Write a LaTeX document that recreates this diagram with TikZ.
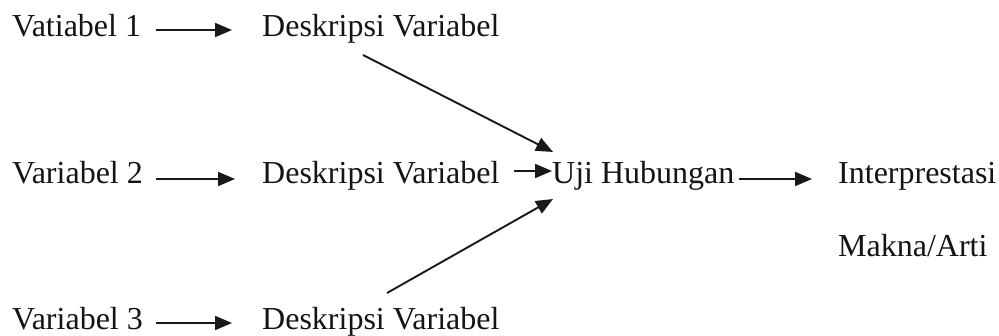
\documentclass[tikz,border=0pt]{standalone}
\usepackage{fontspec}
\setmainfont{Liberation Serif}
\usetikzlibrary{arrows.meta}
\begin{document}
\begin{tikzpicture}[x=1pt,y=-1pt,
  lbl/.style={anchor=base west,inner sep=0pt,font=\fontsize{32}{36}\selectfont,text=black!92},
  arr/.style={-{Triangle[length=17pt,width=14pt]},line width=1.9pt,draw=black!90}]
\useasboundingbox[fill=white] (0,0) rectangle (999,336);
\node[lbl] (v1) at (12,37) {Vatiabel 1};
\node[lbl] (d1) at (262,37) {Deskripsi Variabel};
\node[lbl] (v2) at (12,184) {Variabel 2};
\node[lbl] (d2) at (262,184) {Deskripsi Variabel};
\node[lbl] (u) at (552,184) {Uji Hubungan};
\node[lbl] (i) at (838,184) {Interprestasi};
\node[lbl] (m) at (838,257) {Makna/Arti};
\node[lbl] (v3) at (12,330) {Variabel 3};
\node[lbl] (d3) at (262,330) {Deskripsi Variabel};
\draw[arr] ([shift={(15pt,7pt)}]v1.base east) -- ([shift={(-30pt,7pt)}]d1.base west);
\draw[arr] ([shift={(13pt,5pt)}]v2.base east) -- ([shift={(-27pt,5pt)}]d2.base west);
\draw[arr] ([shift={(13pt,7pt)}]v3.base east) -- ([shift={(-30pt,7pt)}]d3.base west);
\draw[arr] ([shift={(14pt,13pt)}]d2.base east) -- ([shift={(0pt,13pt)}]u.base west);
\draw[arr] ([shift={(4pt,5pt)}]u.base east) -- ([shift={(-26pt,5pt)}]i.base west);
\draw[arr] ([shift={(101pt,-18pt)}]d1.base west) -- ([shift={(1pt,32pt)}]u.base west);
\draw[arr] ([shift={(125pt,37pt)}]d3.base west) -- ([shift={(1pt,-15pt)}]u.base west);
\end{tikzpicture}
\end{document}
